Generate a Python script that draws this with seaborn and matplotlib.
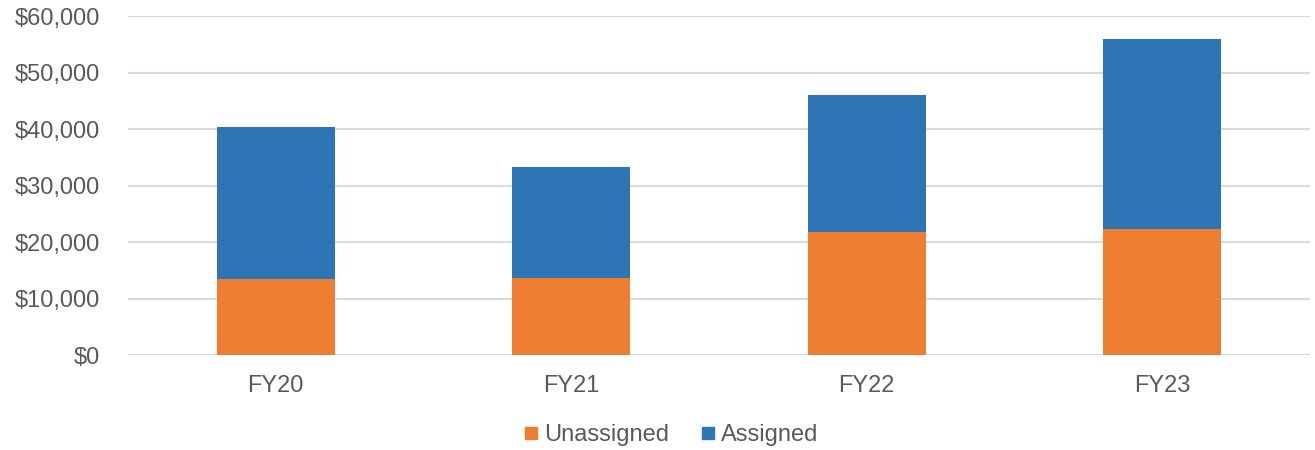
import matplotlib
matplotlib.use("Agg")
import matplotlib.pyplot as plt
from matplotlib.lines import Line2D
from matplotlib.ticker import FuncFormatter
import pandas as pd
import seaborn as sns

# values
years = ["FY20", "FY21", "FY22", "FY23"]
unassigned = [13500, 13700, 21800, 22350]
assigned = [26900, 19600, 24300, 33650]

ORANGE = "#ED7D31"
BLUE = "#2E75B6"
GRID = "#D9D9D9"
TEXT = "#595959"

df = pd.DataFrame({"year": years, "unassigned": unassigned, "assigned": assigned})
df["total"] = df["unassigned"] + df["assigned"]

sns.set_theme(style="white")
plt.rcParams["font.family"] = ["Liberation Sans", "DejaVu Sans"]

fig, ax = plt.subplots(figsize=(13.15, 4.5), dpi=100)
fig.subplots_adjust(left=0.0973, right=0.9962, top=0.9644, bottom=0.2104)

# stacked bars: full height in blue, unassigned part drawn over it in orange
sns.barplot(data=df, x="year", y="total", color=BLUE, width=0.4,
            saturation=1, linewidth=0, ax=ax, zorder=3)
sns.barplot(data=df, x="year", y="unassigned", color=ORANGE, width=0.4,
            saturation=1, linewidth=0, ax=ax, zorder=4)

ax.set_ylim(0, 60000)
ax.set_yticks(range(0, 60001, 10000))
ax.yaxis.set_major_formatter(FuncFormatter(lambda v, p: f"${v:,.0f}"))
ax.set_xlim(-0.5, 3.5)
ax.set_xlabel("")
ax.set_ylabel("")

ax.grid(axis="y", color=GRID, linewidth=1.5, zorder=0)
ax.grid(axis="x", visible=False)
for side in ["top", "right", "left", "bottom"]:
    ax.spines[side].set_visible(False)
ax.axhline(0, color=GRID, linewidth=1.5, zorder=2)

ax.tick_params(axis="both", length=0, labelsize=17, labelcolor=TEXT)
ax.tick_params(axis="y", pad=20)
ax.tick_params(axis="x", pad=14)

handles = [
    Line2D([], [], marker="s", linestyle="", markersize=9, color=ORANGE),
    Line2D([], [], marker="s", linestyle="", markersize=9, color=BLUE),
]
fig.legend(handles, ["Unassigned", "Assigned"], loc="center",
           bbox_to_anchor=(671 / 1315, 0.033), ncol=2, frameon=False,
           fontsize=17, labelcolor=TEXT, handlelength=0.7,
           handletextpad=0.2, columnspacing=1.3)

fig.savefig("out.png", dpi=100)
